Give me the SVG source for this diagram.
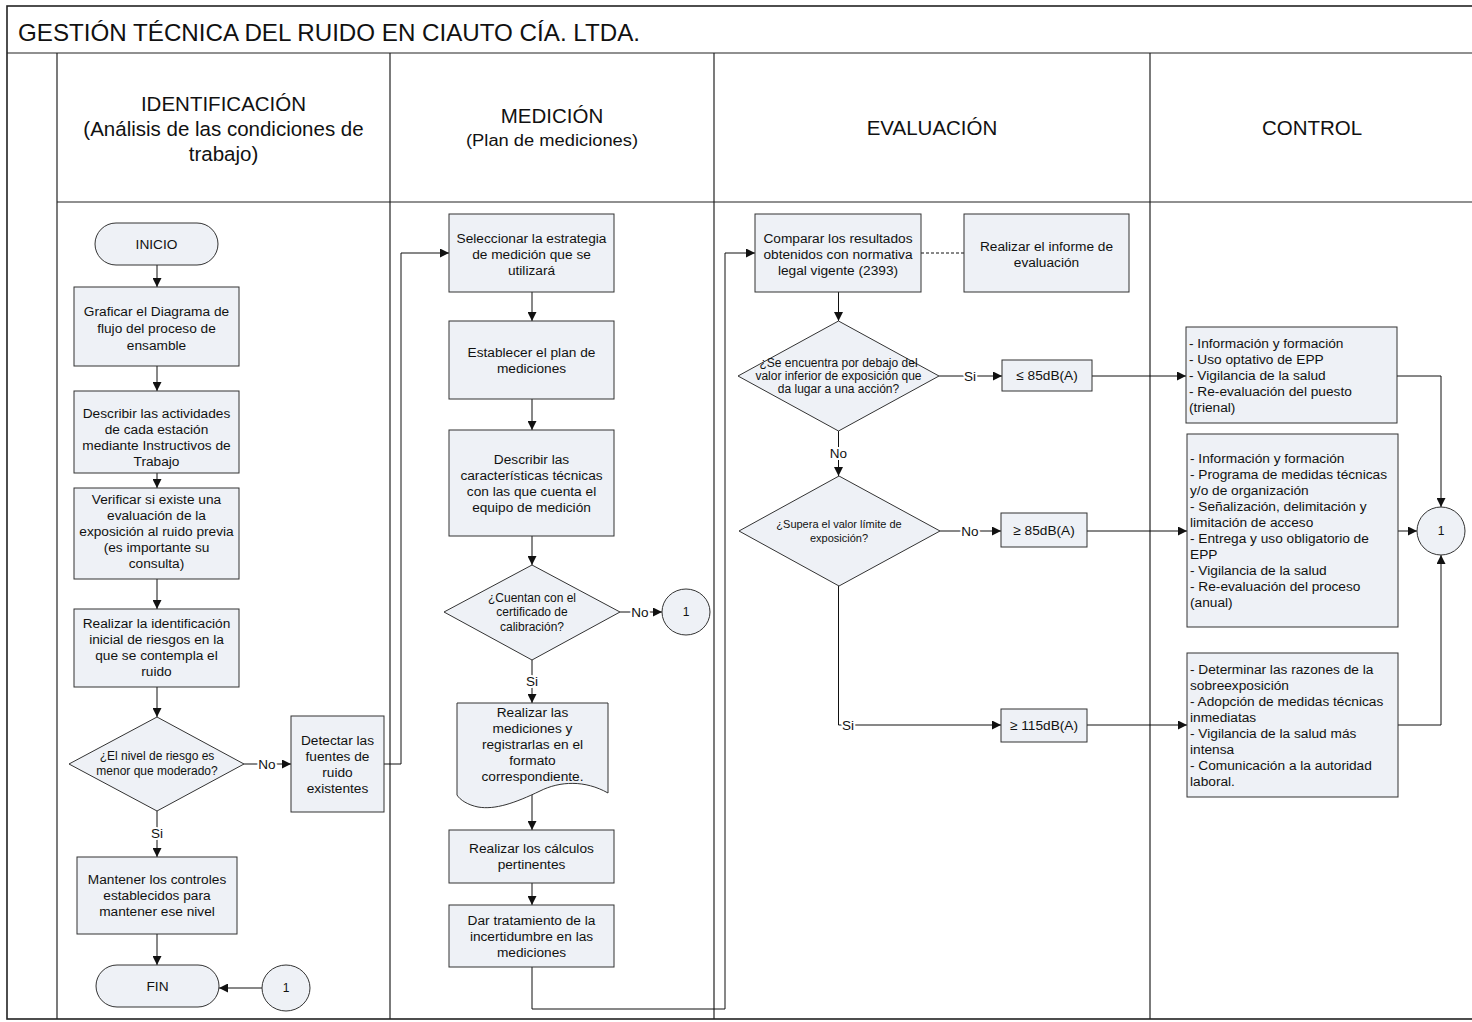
<svg xmlns="http://www.w3.org/2000/svg" width="1472" height="1022" viewBox="0 0 1472 1022">
<defs>
<marker id="arr" markerUnits="userSpaceOnUse" markerWidth="10" markerHeight="9" refX="9" refY="4.5" orient="auto">
<path d="M0,0 L9,4.5 L0,9 Z" fill="#111"/>
</marker>
<style>
.node{fill:#eef1f6;stroke:#333;stroke-width:1}
.t{font-family:"Liberation Sans",Arial,sans-serif;font-size:13.7px;fill:#111;text-anchor:middle;dominant-baseline:central}
.tl{font-family:"Liberation Sans",Arial,sans-serif;font-size:13.7px;fill:#111;text-anchor:start;dominant-baseline:central}
.s12{font-size:12px}
.s11{font-size:11px}
.hd{font-family:"Liberation Sans",Arial,sans-serif;font-size:20.5px;fill:#111;text-anchor:middle;dominant-baseline:central}
.lbl{font-family:"Liberation Sans",Arial,sans-serif;font-size:13.5px;fill:#111;text-anchor:middle;dominant-baseline:central;stroke:#fff;stroke-width:4px;paint-order:stroke;stroke-linejoin:round}
.conn{fill:none;stroke:#111;stroke-width:1}
.frame{fill:none;stroke:#222;stroke-width:1.6}
.lane{stroke:#222;stroke-width:1.2;fill:none}
</style>
</defs>
<rect x="0" y="0" width="1472" height="1022" fill="#fff"/>
<g id="frame">
<rect class="frame" x="7" y="6" width="1470" height="1013"/>
<line class="lane" x1="7" y1="53" x2="1472" y2="53"/>
<line class="lane" x1="57" y1="202" x2="1472" y2="202"/>
<line class="lane" x1="57" y1="53" x2="57" y2="1019"/>
<line class="lane" x1="390" y1="53" x2="390" y2="1019"/>
<line class="lane" x1="714" y1="53" x2="714" y2="1019"/>
<line class="lane" x1="1150" y1="53" x2="1150" y2="1019"/>
<text x="18" y="32" font-family="'Liberation Sans',Arial,sans-serif" font-size="24" fill="#111" dominant-baseline="central" textLength="622" lengthAdjust="spacingAndGlyphs">GESTIÓN TÉCNICA DEL RUIDO EN CIAUTO CÍA. LTDA.</text>
<text class="hd" x="223.5" y="103">IDENTIFICACIÓN</text>
<text class="hd" x="223.5" y="128">(Análisis de las condiciones de</text>
<text class="hd" x="223.5" y="153">trabajo)</text>
<text class="hd" x="552" y="115">MEDICIÓN</text>
<text class="hd" x="552" y="140" style="font-size:16px" textLength="172" lengthAdjust="spacingAndGlyphs">(Plan de mediciones)</text>
<text class="hd" x="932" y="127">EVALUACIÓN</text>
<text class="hd" x="1312" y="127">CONTROL</text>
</g>
<g id="connectors">
<path class="conn" d="M157,265 V287" marker-end="url(#arr)"/>
<path class="conn" d="M157,366 V391" marker-end="url(#arr)"/>
<path class="conn" d="M157,473 V488" marker-end="url(#arr)"/>
<path class="conn" d="M157,579 V609" marker-end="url(#arr)"/>
<path class="conn" d="M157,687 V717" marker-end="url(#arr)"/>
<path class="conn" d="M157,811 V857" marker-end="url(#arr)"/>
<path class="conn" d="M244,764 H291" marker-end="url(#arr)"/>
<path class="conn" d="M157,934 V965" marker-end="url(#arr)"/>
<path class="conn" d="M262,988 H219" marker-end="url(#arr)"/>
<path class="conn" d="M384,764 H401 V253 H449" marker-end="url(#arr)"/>
<path class="conn" d="M532,292 V321" marker-end="url(#arr)"/>
<path class="conn" d="M532,399 V430" marker-end="url(#arr)"/>
<path class="conn" d="M532,536 V565" marker-end="url(#arr)"/>
<path class="conn" d="M620,612 H662" marker-end="url(#arr)"/>
<path class="conn" d="M532,660 V703" marker-end="url(#arr)"/>
<path class="conn" d="M532,795 V830" marker-end="url(#arr)"/>
<path class="conn" d="M532,883 V905" marker-end="url(#arr)"/>
<path class="conn" d="M532,967 V1009 H725 V253 H755" marker-end="url(#arr)"/>
<path class="conn" d="M921,253 H964" stroke-dasharray="3,2"/>
<path class="conn" d="M838.5,292 V321" marker-end="url(#arr)"/>
<path class="conn" d="M939,376 H1002" marker-end="url(#arr)"/>
<path class="conn" d="M838.5,431 V476" marker-end="url(#arr)"/>
<path class="conn" d="M940,531 H1001" marker-end="url(#arr)"/>
<path class="conn" d="M838.5,586 V725 H1001" marker-end="url(#arr)"/>
<path class="conn" d="M1092,376 H1186" marker-end="url(#arr)"/>
<path class="conn" d="M1087,531 H1187" marker-end="url(#arr)"/>
<path class="conn" d="M1087,725 H1187" marker-end="url(#arr)"/>
<path class="conn" d="M1397,376 H1441 V507" marker-end="url(#arr)"/>
<path class="conn" d="M1398,531 H1417" marker-end="url(#arr)"/>
<path class="conn" d="M1397,725 H1441 V555" marker-end="url(#arr)"/>
<text class="lbl" x="267" y="764">No</text>
<text class="lbl" x="157" y="833">Si</text>
<text class="lbl" x="640" y="612">No</text>
<text class="lbl" x="532" y="681">Si</text>
<text class="lbl" x="970" y="376">Si</text>
<text class="lbl" x="838.5" y="453">No</text>
<text class="lbl" x="970" y="531">No</text>
<text class="lbl" x="848" y="725">Si</text>
</g>
<g id="n_inicio"><rect class="node" x="95" y="223" width="123" height="42" rx="21"/><text class="t" x="156.5" y="244">INICIO</text></g>
<g id="n_graficar"><rect class="node" x="74" y="287" width="165" height="79"/>
<text class="t" x="156.5" y="311">Graficar el Diagrama de</text><text class="t" x="156.5" y="328">flujo del proceso de</text><text class="t" x="156.5" y="345">ensamble</text></g>
<g id="n_describir"><rect class="node" x="74" y="391" width="165" height="82"/>
<text class="t" x="156.5" y="413">Describir las actividades</text><text class="t" x="156.5" y="429">de cada estación</text><text class="t" x="156.5" y="445">mediante Instructivos de</text><text class="t" x="156.5" y="461">Trabajo</text></g>
<g id="n_verificar"><rect class="node" x="74" y="488" width="165" height="91"/>
<text class="t" x="156.5" y="499">Verificar si existe una</text><text class="t" x="156.5" y="515">evaluación de la</text><text class="t" x="156.5" y="531">exposición al ruido previa</text><text class="t" x="156.5" y="547">(es importante su</text><text class="t" x="156.5" y="563">consulta)</text></g>
<g id="n_identificacion"><rect class="node" x="74" y="609" width="165" height="78"/>
<text class="t" x="156.5" y="623">Realizar la identificación</text><text class="t" x="156.5" y="639">inicial de riesgos en la</text><text class="t" x="156.5" y="655">que se contempla el</text><text class="t" x="156.5" y="671">ruido</text></g>
<g id="n_dec_riesgo"><polygon class="node" points="157,717 244,764 157,811 69,764"/>
<text class="t s12" x="157" y="756">¿El nivel de riesgo es</text><text class="t s12" x="157" y="771">menor que moderado?</text></g>
<g id="n_detectar"><rect class="node" x="291" y="716" width="93" height="96"/>
<text class="t" x="337.5" y="740">Detectar las</text><text class="t" x="337.5" y="756">fuentes de</text><text class="t" x="337.5" y="772">ruido</text><text class="t" x="337.5" y="788">existentes</text></g>
<g id="n_mantener"><rect class="node" x="77" y="857" width="160" height="77"/>
<text class="t" x="157" y="879.5">Mantener los controles</text><text class="t" x="157" y="895.5">establecidos para</text><text class="t" x="157" y="911.5">mantener ese nivel</text></g>
<g id="n_fin"><rect class="node" x="96" y="965" width="123" height="42" rx="21"/><text class="t" x="157.5" y="986">FIN</text></g>
<g id="n_conector_a"><ellipse class="node" cx="286" cy="988" rx="24" ry="23"/><text class="t s12" x="286" y="988">1</text></g>
<g id="n_seleccionar"><rect class="node" x="449" y="214" width="165" height="78"/>
<text class="t" x="531.5" y="238">Seleccionar la estrategia</text><text class="t" x="531.5" y="254">de medición que se</text><text class="t" x="531.5" y="270">utilizará</text></g>
<g id="n_establecer"><rect class="node" x="449" y="321" width="165" height="78"/>
<text class="t" x="531.5" y="352">Establecer el plan de</text><text class="t" x="531.5" y="368">mediciones</text></g>
<g id="n_caracteristicas"><rect class="node" x="449" y="430" width="165" height="106"/>
<text class="t" x="531.5" y="459">Describir las</text><text class="t" x="531.5" y="475">características técnicas</text><text class="t" x="531.5" y="491">con las que cuenta el</text><text class="t" x="531.5" y="507">equipo de medición</text></g>
<g id="n_dec_calibracion"><polygon class="node" points="532,565 620,612 532,660 444,612"/>
<text class="t s12" x="532" y="597.5">¿Cuentan con el</text><text class="t s12" x="532" y="612">certificado de</text><text class="t s12" x="532" y="626.5">calibración?</text></g>
<g id="n_conector_b"><ellipse class="node" cx="686" cy="612" rx="24" ry="23"/><text class="t s12" x="686" y="612">1</text></g>
<g id="n_mediciones"><path class="node" d="M457,703 H608 V793 C585,780 560,781 540,791 C515,803 495,810 478,807 C468,805 460,800 457,795 Z"/>
<text class="t" x="532.5" y="712">Realizar las</text><text class="t" x="532.5" y="728">mediciones y</text><text class="t" x="532.5" y="744">registrarlas en el</text><text class="t" x="532.5" y="760">formato</text><text class="t" x="532.5" y="776">correspondiente.</text></g>
<g id="n_calculos"><rect class="node" x="449" y="830" width="165" height="53"/>
<text class="t" x="531.5" y="848.5">Realizar los cálculos</text><text class="t" x="531.5" y="864.5">pertinentes</text></g>
<g id="n_incertidumbre"><rect class="node" x="449" y="905" width="165" height="62"/>
<text class="t" x="531.5" y="920">Dar tratamiento de la</text><text class="t" x="531.5" y="936">incertidumbre en las</text><text class="t" x="531.5" y="952">mediciones</text></g>
<g id="n_comparar"><rect class="node" x="755" y="214" width="166" height="78"/>
<text class="t" x="838" y="238">Comparar los resultados</text><text class="t" x="838" y="254">obtenidos con normativa</text><text class="t" x="838" y="270">legal vigente (2393)</text></g>
<g id="n_informe"><rect class="node" x="964" y="214" width="165" height="78"/>
<text class="t" x="1046.5" y="246">Realizar el informe de</text><text class="t" x="1046.5" y="262">evaluación</text></g>
<g id="n_dec_inferior"><polygon class="node" points="838.5,321 939,376 838.5,431 738,376"/>
<text class="t s12" x="838.5" y="363">¿Se encuentra por debajo del</text><text class="t s12" x="838.5" y="376">valor inferior de exposición que</text><text class="t s12" x="838.5" y="389">da lugar a una acción?</text></g>
<g id="n_le85"><rect class="node" x="1002" y="360" width="90" height="31"/><text class="t" x="1047" y="375.5">≤ 85dB(A)</text></g>
<g id="n_dec_limite"><polygon class="node" points="839,476 940,531 839,586 739,531"/>
<text class="t s11" x="839" y="524">¿Supera el valor límite de</text><text class="t s11" x="839" y="538">exposición?</text></g>
<g id="n_ge85"><rect class="node" x="1001" y="513" width="86" height="34"/><text class="t" x="1044" y="530">≥ 85dB(A)</text></g>
<g id="n_ge115"><rect class="node" x="1001" y="709" width="86" height="33"/><text class="t" x="1044" y="725.5">≥ 115dB(A)</text></g>
<g id="n_control1"><rect class="node" x="1186" y="327" width="211" height="96"/>
<text class="tl" x="1189" y="343">- Información y formación</text><text class="tl" x="1189" y="359">- Uso optativo de EPP</text><text class="tl" x="1189" y="375">- Vigilancia de la salud</text><text class="tl" x="1189" y="391">- Re-evaluación del puesto</text><text class="tl" x="1189" y="407">(trienal)</text></g>
<g id="n_control2"><rect class="node" x="1187" y="434" width="211" height="193"/>
<text class="tl" x="1190" y="458">- Información y formación</text><text class="tl" x="1190" y="474">- Programa de medidas técnicas</text><text class="tl" x="1190" y="490">y/o de organización</text><text class="tl" x="1190" y="506">- Señalización, delimitación y</text><text class="tl" x="1190" y="522">limitación de acceso</text><text class="tl" x="1190" y="538">- Entrega y uso obligatorio de</text><text class="tl" x="1190" y="554">EPP</text><text class="tl" x="1190" y="570">- Vigilancia de la salud</text><text class="tl" x="1190" y="586">- Re-evaluación del proceso</text><text class="tl" x="1190" y="602">(anual)</text></g>
<g id="n_control3"><rect class="node" x="1187" y="653" width="211" height="144"/>
<text class="tl" x="1190" y="669">- Determinar las razones de la</text><text class="tl" x="1190" y="685">sobreexposición</text><text class="tl" x="1190" y="701">- Adopción de medidas técnicas</text><text class="tl" x="1190" y="717">inmediatas</text><text class="tl" x="1190" y="733">- Vigilancia de la salud más</text><text class="tl" x="1190" y="749">intensa</text><text class="tl" x="1190" y="765">- Comunicación a la autoridad</text><text class="tl" x="1190" y="781">laboral.</text></g>
<g id="n_conector_c"><ellipse class="node" cx="1441" cy="531" rx="24" ry="24"/><text class="t s12" x="1441" y="531">1</text></g>
</svg>
